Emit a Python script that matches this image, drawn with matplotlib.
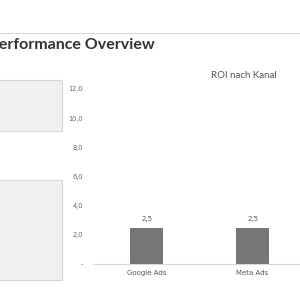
import matplotlib.pyplot as plt
from matplotlib.patches import Rectangle
from matplotlib.lines import Line2D
from matplotlib.ticker import FuncFormatter

# data
kanaele = ['Google Ads', 'Meta Ads']
roi = [2.5, 2.5]
y_ticks = [0, 2, 4, 6, 8, 10, 12]


def de_fmt(v, pos=None):
	# accounting style: zero shown as dash, comma decimal
	if v == 0:
		return '-'
	return '{:.1f}'.format(v).replace('.', ',')


fig = plt.figure(figsize=(3, 3), dpi=100)
fig.patch.set_facecolor('white')

# top separator line
fig.add_artist(Line2D([0, 1], [1 - 33 / 300, 1 - 33 / 300], color='#d9d9d9', lw=0.8))

# dashboard title, cut off at left
fig.text(155 / 300, 1 - 45 / 300, 'Performance Overview', ha='right', va='center',
	fontsize=11.5, fontweight='bold', color='#333333', family='Lato')

# grey cards at left
for top, bottom in [(80, 131), (180, 280)]:
	fig.add_artist(Rectangle((-0.1, 1 - bottom / 300), 62 / 300 + 0.1, (bottom - top) / 300,
		facecolor='#f0f0f0', edgecolor='#d6d6d6', lw=0.8, transform=fig.transFigure))

# chart
ax = fig.add_axes([93 / 300, 36 / 300, 207 / 300, 175 / 300])
x = list(range(len(kanaele)))
bars = ax.bar(x, roi, width=0.31, color='#767676')
ax.set_xlim(-0.505, 1.448)
ax.set_ylim(0, 12)
ax.set_yticks(y_ticks)
ax.yaxis.set_major_formatter(FuncFormatter(de_fmt))
ax.set_xticks(x)
ax.set_xticklabels(kanaele)
ax.tick_params(axis='y', length=0, pad=7, labelsize=4.8, labelcolor='#666666')
ax.tick_params(axis='x', length=0, pad=4, labelsize=5, labelcolor='#555555')
for s in ['top', 'right', 'left']:
	ax.spines[s].set_visible(False)
ax.spines['bottom'].set_color('#d9d9d9')
ax.spines['bottom'].set_linewidth(0.8)

for b, v in zip(bars, roi):
	ax.text(b.get_x() + b.get_width() / 2, v + 0.35, de_fmt(v), ha='center', va='bottom',
		fontsize=5, color='#555555')

fig.text(244 / 300, 1 - 75 / 300, 'ROI nach Kanal', ha='center', va='center',
	fontsize=7, color='#555555', family='Lato')

fig.savefig('out.png', dpi=100)
